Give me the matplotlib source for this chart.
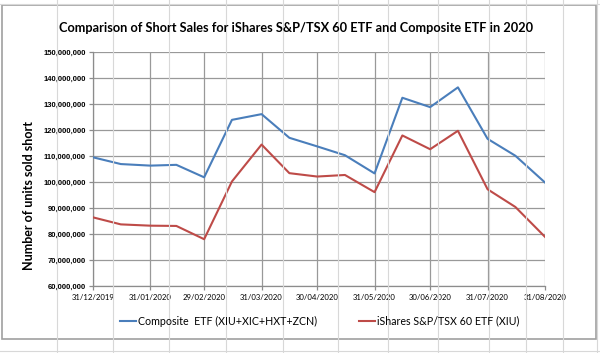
import matplotlib
matplotlib.use("Agg")
import matplotlib.pyplot as plt
import matplotlib.dates as mdates
from matplotlib.patches import Rectangle
from matplotlib.lines import Line2D
import pandas as pd

dates = ["2019-12-31", "2020-01-15", "2020-01-31", "2020-02-14", "2020-02-29",
         "2020-03-15", "2020-03-31", "2020-04-15", "2020-04-30", "2020-05-15",
         "2020-05-31", "2020-06-15", "2020-06-30", "2020-07-15", "2020-07-31",
         "2020-08-15", "2020-08-31"]
composite = [109.5, 106.9, 106.3, 106.6, 101.8, 123.9, 126.1, 117.0, 113.7, 110.3,
             103.3, 132.4, 128.8, 136.4, 116.6, 110.1, 99.8]
ishares = [86.4, 83.7, 83.2, 83.1, 78.0, 100.2, 114.4, 103.4, 102.1, 102.7,
           96.1, 117.9, 112.6, 119.7, 97.2, 90.4, 78.9]
tick_dates = ["2019-12-31", "2020-01-31", "2020-02-29", "2020-03-31", "2020-04-30",
              "2020-05-31", "2020-06-30", "2020-07-31", "2020-08-31"]
tick_labels = ["31/12/2019", "31/01/2020", "29/02/2020", "31/03/2020", "30/04/2020",
               "31/05/2020", "30/06/2020", "31/07/2020", "31/08/2020"]
series_names = ["Composite  ETF (XIU+XIC+HXT+ZCN)", "iShares S&P/TSX 60 ETF (XIU)"]
title = "Comparison of Short Sales for iShares S&P/TSX 60 ETF and Composite ETF in 2020"
ylabel = "Number of units sold short"

blue = "#4A7EBB"
red = "#BE4B48"

W, H = 600, 353
fig = plt.figure(figsize=(6.0, 3.53), dpi=100)

# spreadsheet background lines
for x in [57, 113, 169, 226, 283, 338, 388, 438, 489, 526, 563, 597]:
    fig.add_artist(Line2D([x / W, x / W], [0, 1], color="#d8d8d8", lw=0.8))
for y in [4, 351]:
    fig.add_artist(Line2D([0, 1], [1 - y / H, 1 - y / H], color="#d8d8d8", lw=0.8))

# chart box
fig.add_artist(Rectangle((2 / W, 1 - 339 / H), 594 / W, 334 / H, facecolor="white",
                         edgecolor="#a0a0a0", lw=1.2, zorder=0.5))

ax = fig.add_axes([93 / W, 1 - 286 / H, (545 - 93) / W, (286 - 52) / H])
ax.set_zorder(1)
ax.patch.set_alpha(0)

d = pd.to_datetime(dates)
ax.plot(d, composite, color=blue, lw=1.5, zorder=3)
ax.plot(d, ishares, color=red, lw=1.5, zorder=3)

td = pd.to_datetime(tick_dates)
ax.set_xlim(td[0], td[-1])
ax.set_ylim(60, 150)
ax.set_xticks(td)
ax.set_xticklabels(tick_labels)
yt = list(range(60, 151, 10))
ax.set_yticks(yt)
ax.set_yticklabels([f"{v*1000000:,.0f}" for v in yt])
ax.grid(True, color="#999999", lw=0.9)
ax.set_axisbelow(True)
for s in ["top", "right"]:
    ax.spines[s].set_visible(False)
for s in ["left", "bottom"]:
    ax.spines[s].set_color("#8c8c8c")
    ax.spines[s].set_linewidth(0.9)
ax.tick_params(axis="both", length=3, color="#8c8c8c", width=0.9)
ax.tick_params(axis="y", labelsize=5.5, pad=2)
ax.tick_params(axis="x", labelsize=5.6, pad=2.5)
for t in ax.get_yticklabels():
    t.set_fontweight("bold")
    t.set_family("Liberation Sans")
for t in ax.get_xticklabels():
    t.set_family("Lato")

fig.text(296 / W, 1 - 28 / H, title, ha="center", va="center", fontsize=9.2,
         fontweight="bold", family="Lato")
fig.text(29 / W, 1 - 196 / H, ylabel, ha="center", va="center", rotation=90,
         fontsize=9, fontweight="bold", family="Lato")

# legend
ly = 1 - 321 / H
fig.add_artist(Line2D([120 / W, 136 / W], [ly, ly], color=blue, lw=1.5))
fig.text(138 / W, ly, series_names[0], ha="left", va="center", fontsize=7.7, family="Lato")
fig.add_artist(Line2D([359 / W, 375 / W], [ly, ly], color=red, lw=1.5))
fig.text(377 / W, ly, series_names[1], ha="left", va="center", fontsize=7.7, family="Lato")

fig.savefig("out.png", dpi=100)
